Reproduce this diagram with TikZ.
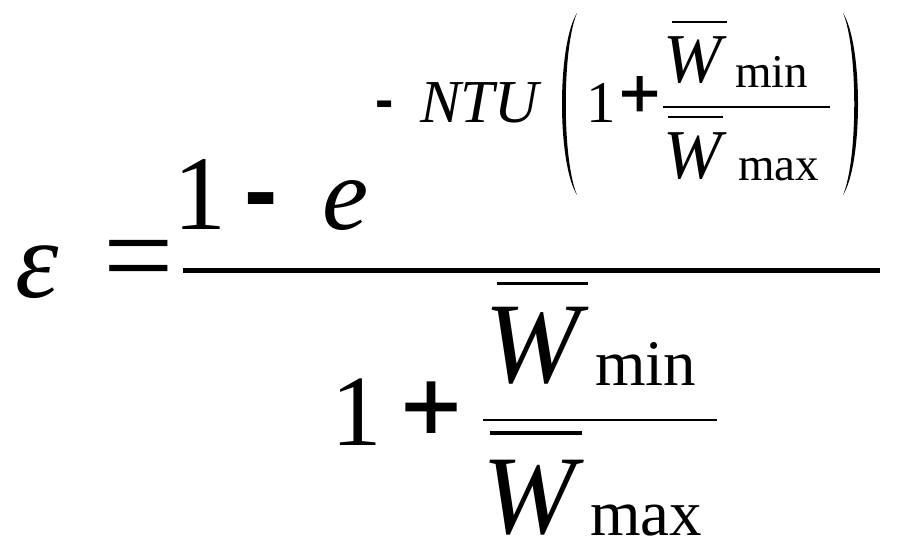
\documentclass[tikz,border=0pt]{standalone}
\usepackage{fontspec}
\setmainfont{Liberation Serif}
\newfontfamily\signfont{Liberation Sans}
\newfontfamily\plusfont{Liberation Sans}[FakeBold=1.5]
\usepackage{tikz}
\newcommand{\fsize}[1]{\fontsize{#1}{#1}\selectfont}

\begin{document}
\begin{tikzpicture}[x=1pt, y=-1pt, glyph/.style = {inner sep=0pt,
                        anchor=base west}, sign/.style = {glyph}]
        \useasboundingbox (0,0) rectangle (897,557);

        \node[glyph, font=\fsize{110}\itshape] (eps) at (15,297) {ε};
        \node[glyph, font=\fsize{125}] (eq) at (103,297) {=};

        % numerator
        \node[glyph, font=\fsize{106}] (one) at (173,229) {1};
        \node[sign, font=\fsize{100}\signfont\bfseries] (minus) at (244,224) {-};
        \node[glyph, font=\fsize{104}\itshape] (e) at (322,229) {e};

        % exponent
        \node[sign, font=\fsize{55}\signfont\bfseries] (expminus) at (375,118) {-};
        \node[glyph, font=\fsize{61}\itshape] (ntu) at (420,122) {NTU};
        \node[glyph, font=\fsize{59}] (expone) at (586,122) {1};
        \node[sign, font=\fsize{70}\plusfont] (expplus) at (619,117) {+};
        \node[glyph, font=\fsize{70}\itshape] (expwmin) at (663,82) {W};
        \node[glyph, font=\fsize{47}] (expmin) at (735,87) {min};
        \node[glyph, font=\fsize{70}\itshape] (expwmax) at (663,178) {W};
        \node[glyph, font=\fsize{47}] (expmax) at (738,180) {max};
        \draw[line width=1.5pt] (672,22) -- (727,22);
        \draw[line width=1.2pt] (663,107) -- (830,107);
        \draw[line width=1.8pt] (668,117) -- (723,117);

        \fill (577,13) .. controls (557,45) and (557,163) .. (577,195)
              .. controls (562,160) and (562,48) .. (577,13) -- cycle;
        \fill (843,13) .. controls (863,45) and (863,163) .. (843,195)
              .. controls (858,160) and (858,48) .. (843,13) -- cycle;

        % main fraction bar
        \draw[line width=4.5pt] (183,270.5) -- (880,270.5);

        % denominator
        \node[glyph, font=\fsize{101}] (denone) at (331,445) {1};
        \node[sign, font=\fsize{102}\plusfont] (denplus) at (401,441) {+};
        \node[glyph, font=\fsize{115}\itshape] (wmin) at (484,382) {W};
        \node[glyph, font=\fsize{65}] (min) at (595,385) {min};
        \node[glyph, font=\fsize{112}\itshape] (wmax) at (482,533) {W};
        \node[glyph, font=\fsize{65}] (max) at (590,535) {max};
        \draw[line width=3pt] (497,283.5) -- (588,283.5);
        \draw[line width=1.3pt] (483,420) -- (717,420);
        \draw[line width=4pt] (490,432.5) -- (582,432.5);
    \end{tikzpicture}
\end{document}
